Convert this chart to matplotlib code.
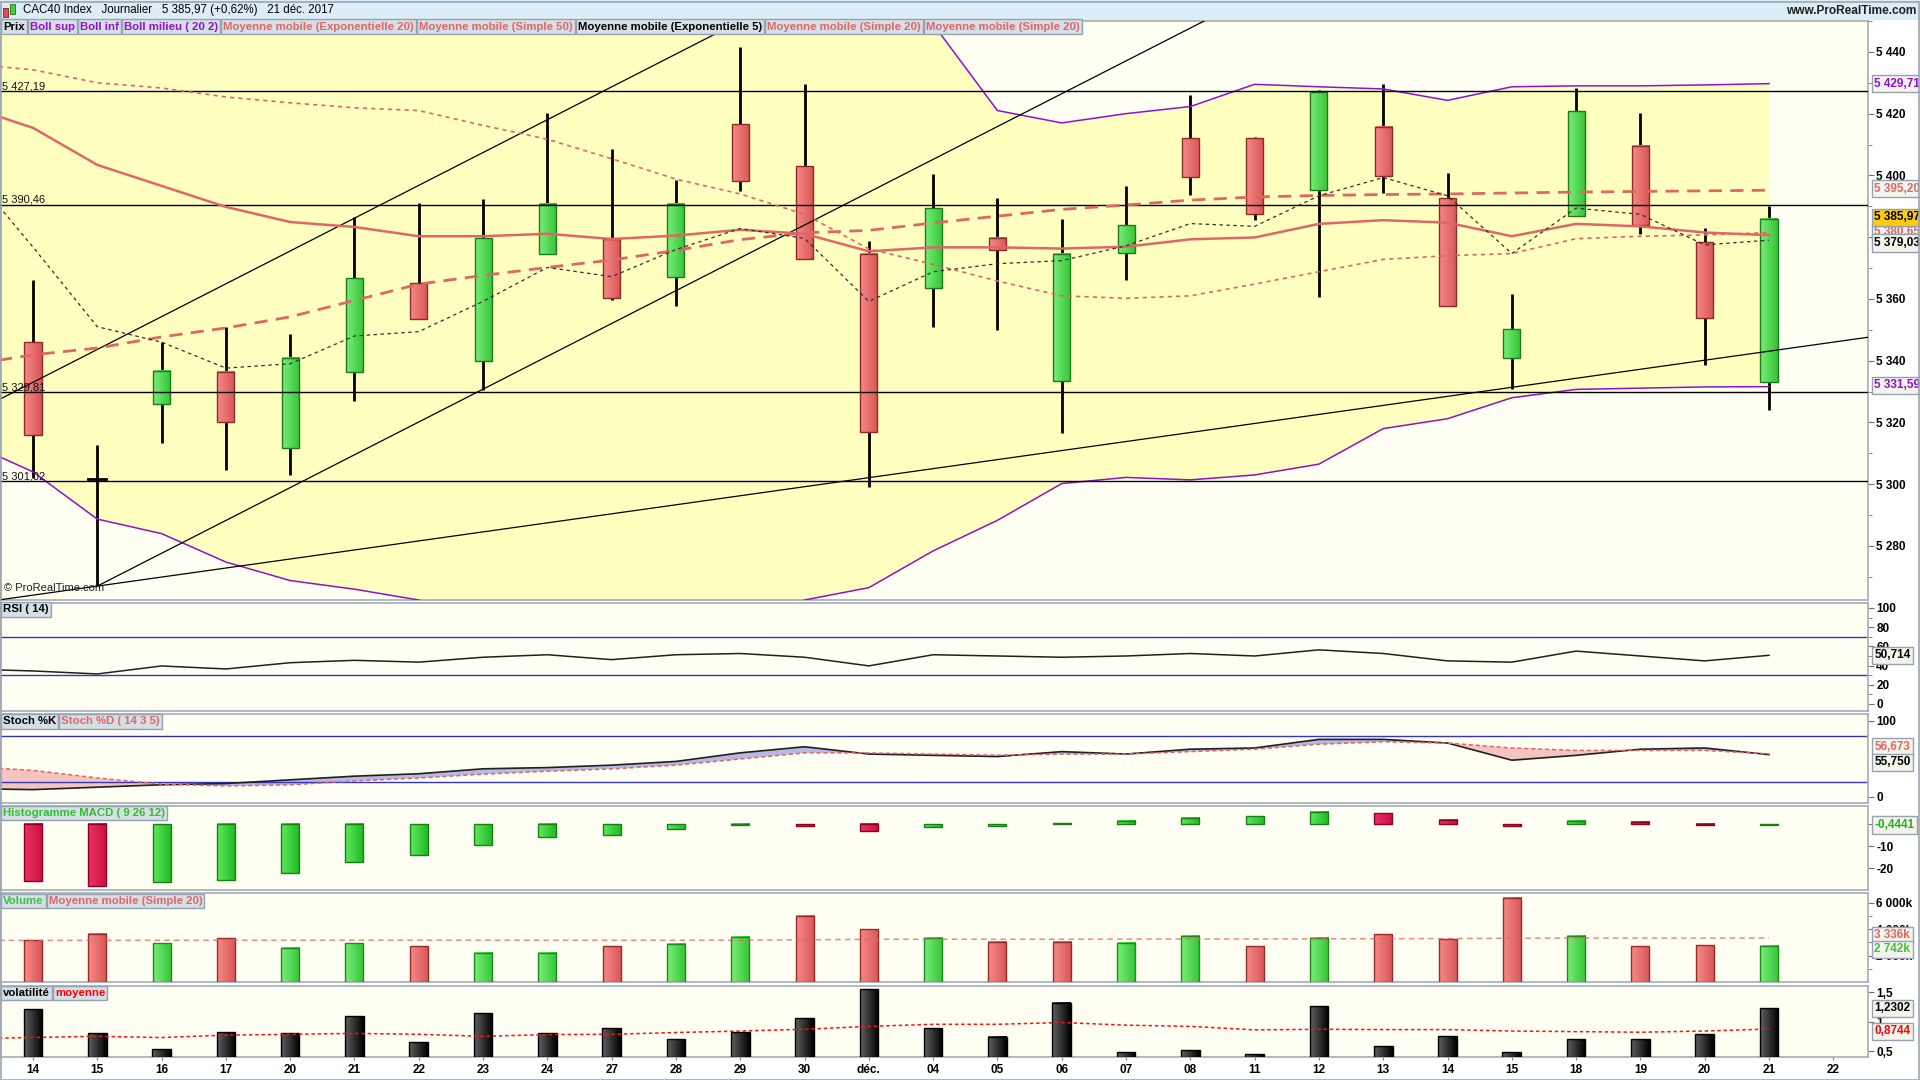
import matplotlib
matplotlib.use('Agg')
import matplotlib.pyplot as plt
from matplotlib.patches import Rectangle
from matplotlib.colors import LinearSegmentedColormap
from matplotlib.ticker import FuncFormatter, MultipleLocator, FixedLocator
import numpy as np

plt.rcParams['font.family'] = ['Liberation Sans', 'DejaVu Sans']
plt.rcParams['lines.scale_dashes'] = False

# ---------------- data ----------------
day_labels = ['14', '15', '16', '17', '20', '21', '22', '23', '24', '27', '28', '29', '30', 'déc.',
              '04', '05', '06', '07', '08', '11', '12', '13', '14', '15', '18', '19', '20', '21', '22']

prev_close = 5330.0   # 13 nov, only used for the volume colour of the first bar
opens = [5346.1, 5301.7, 5326.0, 5336.4, 5311.7, 5336.4, 5365.0, 5340.0, 5374.7, 5379.3, 5367.0, 5416.5,
         5402.9, 5374.7, 5363.6, 5379.8, 5333.5, 5375.0, 5412.0, 5412.0, 5395.4, 5415.6, 5392.6, 5341.0,
         5387.0, 5409.6, 5378.3, 5333.1]
closes = [5316.0, 5301.7, 5336.7, 5320.0, 5341.0, 5366.8, 5353.4, 5379.8, 5390.9, 5360.4, 5390.9, 5398.3,
          5373.0, 5317.0, 5389.5, 5375.9, 5374.7, 5384.0, 5399.4, 5387.4, 5427.1, 5399.7, 5357.7, 5350.2,
          5420.7, 5383.9, 5353.7, 5385.97]
highs = [5366.2, 5312.7, 5346.0, 5351.0, 5348.7, 5386.5, 5391.2, 5392.2, 5420.1, 5408.7, 5398.4, 5441.6,
         5429.5, 5378.6, 5400.5, 5392.8, 5386.0, 5396.7, 5425.9, 5412.4, 5427.5, 5429.5, 5400.9, 5361.7,
         5428.3, 5420.3, 5383.0, 5390.1]
lows = [5302.0, 5267.0, 5313.4, 5304.6, 5303.0, 5327.0, 5353.4, 5330.4, 5374.7, 5359.8, 5357.8, 5395.0,
        5373.0, 5299.0, 5350.8, 5349.8, 5316.5, 5366.1, 5393.7, 5385.4, 5360.5, 5394.2, 5357.7, 5330.7,
        5387.0, 5381.1, 5338.7, 5324.0]

# indicator lines start one day earlier (13 nov) so they reach the left edge
line_x = np.arange(-1, 28)
boll_sup = [5500, 5495, 5490, 5486, 5482, 5478, 5474, 5470, 5468, 5466, 5464, 5462, 5460, 5458, 5455, 5449,
            5421.0, 5417.0, 5420.0, 5422.3, 5429.5, 5428.7, 5428.0, 5424.3, 5428.7, 5429.0, 5429.0, 5429.3, 5429.71]
boll_inf = [5313.4, 5304.0, 5288.7, 5284.0, 5274.8, 5268.8, 5266.0, 5262.5, 5255.0, 5250.0, 5248.0, 5250.0,
            5255.0, 5262.5, 5266.5, 5278.4, 5288.3, 5300.2, 5302.2, 5301.4, 5303.0, 5306.5, 5318.0, 5321.2,
            5328.0, 5330.7, 5331.1, 5331.5, 5331.59]
sma20 = [5422.3, 5415.4, 5403.4, 5396.6, 5389.8, 5384.9, 5383.3, 5380.3, 5380.3, 5381.1, 5379.4, 5380.5,
         5382.4, 5381.1, 5375.4, 5376.7, 5376.7, 5376.3, 5376.9, 5379.3, 5379.9, 5384.3, 5385.5, 5384.7,
         5380.3, 5384.3, 5383.5, 5381.5, 5380.65]
ema20 = [5338.6, 5341.9, 5344.1, 5347.7, 5350.6, 5354.2, 5359.5, 5364.8, 5367.6, 5370.2, 5372.6, 5375.7,
         5379.2, 5381.4, 5382.2, 5384.6, 5386.8, 5389.0, 5390.4, 5392.0, 5393.0, 5393.5, 5393.8, 5394.0,
         5394.3, 5394.6, 5394.8, 5395.0, 5395.20]
sma50 = [5436.1, 5434.2, 5430.0, 5428.3, 5425.4, 5423.5, 5421.9, 5421.0, 5416.2, 5411.7, 5405.4, 5398.8,
         5394.0, 5387.4, 5376.2, 5371.2, 5365.8, 5361.0, 5360.2, 5361.0, 5364.8, 5368.8, 5372.8, 5374.0,
         5374.7, 5379.5, 5380.3, 5380.7, 5381.5]
ema5 = [5401.7, 5376.8, 5351.0, 5346.0, 5337.6, 5339.0, 5348.0, 5349.4, 5359.2, 5370.2, 5367.2, 5376.0,
        5382.8, 5379.6, 5359.2, 5368.8, 5371.4, 5372.4, 5377.2, 5384.4, 5383.5, 5393.4, 5399.3, 5393.4,
        5374.7, 5389.4, 5387.4, 5377.5, 5379.03]

levels = [5427.19, 5390.46, 5329.81, 5301.02]
level_labels = ['5 427,19', '5 390,46', '5 329,81', '5 301,02']

# trend lines: anchor day, anchor price, slope (pts/day), first day drawn
trend_anchor_x = [1, 5.4, 1]
trend_anchor_y = [5267.0, 5390.4, 5267.0]
trend_slope = [10.63, 10.63, 2.926]
trend_start = [1, -1, -1]

rsi = [36.4, 34.4, 31.3, 39.6, 36.5, 43.0, 45.5, 43.6, 48.7, 51.3, 46.2, 51.3, 52.6, 48.7, 39.7, 51.3,
       50.0, 48.7, 50.0, 52.6, 50.0, 56.4, 52.6, 44.9, 43.6, 55.1, 50.0, 44.9, 50.714]
stoch_k = [11.0, 9.7, 12.9, 16.1, 17.7, 22.6, 27.4, 30.6, 37.1, 38.7, 41.9, 46.8, 58.1, 66.1, 56.5, 54.8,
           53.2, 59.7, 56.5, 62.9, 64.5, 75.8, 75.8, 71.0, 48.4, 54.8, 62.9, 64.5, 55.75]
stoch_d = [40.0, 35.0, 25.0, 17.0, 14.5, 16.0, 21.0, 25.0, 30.0, 33.9, 37.0, 41.9, 50.0, 58.0, 58.0, 56.5,
           55.0, 56.5, 56.5, 59.7, 62.9, 69.4, 72.6, 71.0, 64.5, 61.3, 61.3, 61.3, 56.673]

macd_prev = -24.0
macd_hist = [-26.0, -28.4, -26.2, -25.6, -22.3, -17.3, -13.9, -9.5, -6.1, -5.0, -2.2, -0.5, -0.8, -3.3,
             -1.2, -0.8, 0.3, 1.5, 2.8, 3.6, 5.5, 5.0, 2.0, -0.8, 1.6, 1.0, -0.6, -0.4441]

volume_k = [3180, 3640, 2950, 3330, 2580, 2950, 2690, 2230, 2230, 2690, 2880, 3430, 5000, 3990, 3340, 3060,
            3060, 2970, 3520, 2690, 3340, 3600, 3250, 6400, 3520, 2690, 2780, 2742]
volume_sma20 = [3150, 3150, 3155, 3160, 3160, 3165, 3170, 3170, 3165, 3160, 3160, 3165, 3170, 3200, 3230,
                3240, 3240, 3240, 3250, 3260, 3260, 3270, 3280, 3290, 3320, 3330, 3330, 3330, 3336]

volat = [1.207, 0.80, 0.53, 0.822, 0.80, 1.093, 0.647, 1.14, 0.80, 0.89, 0.698, 0.822, 1.054, 1.55, 0.89,
         0.742, 1.32, 0.483, 0.517, 0.449, 1.263, 0.585, 0.754, 0.483, 0.703, 0.703, 0.788, 1.2302]
volat_avg = [0.71, 0.73, 0.75, 0.73, 0.77, 0.785, 0.80, 0.785, 0.75, 0.78, 0.785, 0.815, 0.84, 0.87, 0.92,
             0.955, 0.955, 0.985, 0.94, 0.92, 0.86, 0.87, 0.865, 0.865, 0.84, 0.83, 0.82, 0.84, 0.8744]

# ---------------- layout ----------------
W, H = 1920, 1080
RIGHT = 1868
XLIM = (-0.513, 28.54)
MAIN_YLIM = (5262.5, 5450.0)
BG = '#fffff3'
BAND = '#ffffc0'
GRID_EDGE = '#a3adb7'
RED = '#e06666'
PURPLE = '#9010d0'
BLUE = '#3434c0'

fig = plt.figure(figsize=(W / 100, H / 100), dpi=100)
fig.patch.set_facecolor('white')


def panel(top, bottom, ylim):
    ax = fig.add_axes([0, 1 - bottom / H, RIGHT / W, (bottom - top) / H])
    ax.set_facecolor(BG)
    ax.set_xlim(*XLIM)
    ax.set_ylim(*ylim)
    for s in ax.spines.values():
        s.set_color(GRID_EDGE)
        s.set_linewidth(1.2)
    ax.yaxis.tick_right()
    ax.set_xticks([])
    ax.tick_params(axis='y', which='both', direction='out', colors='#707070', labelcolor='black',
                   labelsize=8.5, pad=2)
    ax.tick_params(axis='y', which='major', length=4)
    ax.tick_params(axis='y', which='minor', length=3)
    for lab in ax.get_yticklabels():
        lab.set_fontweight('bold')
    return ax


def fr(v, dec=0, suffix=''):
    s = '{:,.{d}f}'.format(v, d=dec).replace(',', ' ').replace('.', ',')
    return s + suffix


def grad_bar(ax, xc, y0, y1, w, c1, c2, edge, z=3):
    lo, hi = min(y0, y1), max(y0, y1)
    cmap = LinearSegmentedColormap.from_list('g', [c1, c2])
    ax.imshow(np.linspace(0, 1, 32).reshape(1, -1), extent=(xc - w / 2, xc + w / 2, lo, hi),
              aspect='auto', cmap=cmap, zorder=z, interpolation='bilinear')
    ax.add_patch(Rectangle((xc - w / 2, lo), w, hi - lo, fill=False, edgecolor=edge, lw=1.0, zorder=z + 0.05))


def value_box(ax, y, txt, color, dy=0.0, fc='#f4f4ec'):
    ax.annotate(txt, xy=(1, y), xycoords=('axes fraction', 'data'), xytext=(4.6, dy),
                textcoords='offset points', ha='left', va='center', fontsize=8.5, fontweight='bold',
                color=color, annotation_clip=False, zorder=30,
                bbox=dict(boxstyle='square,pad=0.22', fc=fc, ec='#96a2ae', lw=1))


renderer = fig.canvas.get_renderer()


def label_row(items, x, y, size=8.2):
    for txt, col in items:
        t = fig.text(x / W, 1 - y / H, txt, color=col, fontsize=size, fontweight='bold', ha='left',
                     va='center', zorder=40,
                     bbox=dict(boxstyle='square,pad=0.18', fc='#d6dee6', ec='#95a3b1', lw=1))
        bb = t.get_window_extent(renderer)
        x = bb.x1 + 2 * 0.18 * size * 100 / 72 + 1


# ---------------- header ----------------
fig.add_artist(Rectangle((0, 1 - 20 / H), 1, 20 / H, transform=fig.transFigure, fc='#dcedf6',
                         ec='none', zorder=0))
fig.add_artist(Rectangle((3 / W, 1 - 17 / H), 5 / W, 9 / H, transform=fig.transFigure, fc='#e05050',
                         ec='#802020', lw=0.6))
fig.add_artist(Rectangle((10 / W, 1 - 14 / H), 5 / W, 10 / H, transform=fig.transFigure, fc='#40d040',
                         ec='#207020', lw=0.6))
fig.text(23 / W, 1 - 10.5 / H, 'CAC40 Index   Journalier   5 385,97 (+0,62%)   21 déc. 2017',
         fontsize=8.3, ha='left', va='center', color='black')
fig.text(1916 / W, 1 - 11 / H, 'www.ProRealTime.com', fontsize=8.6, fontweight='bold', ha='right',
         va='center', color='#202020')

# ---------------- main price panel ----------------
ax = panel(21, 600, MAIN_YLIM)
ax.yaxis.set_major_locator(MultipleLocator(20))
ax.yaxis.set_minor_locator(MultipleLocator(10))
ax.yaxis.set_major_formatter(FuncFormatter(lambda v, p: fr(v)))

ax.fill_between(line_x, boll_inf, boll_sup, color=BAND, lw=0, zorder=0.5)
ax.plot(line_x, boll_sup, color=PURPLE, lw=1.1, zorder=4)
ax.plot(line_x, boll_inf, color=PURPLE, lw=1.1, zorder=4)

for lv, lab in zip(levels, level_labels):
    ax.axhline(lv, color='black', lw=1.0, zorder=4)
    ax.text(0.001, lv, lab, transform=ax.get_yaxis_transform(), fontsize=8, ha='left', va='bottom',
            color='#101010', zorder=5)

for ax0, ay0, sl, st in zip(trend_anchor_x, trend_anchor_y, trend_slope, trend_start):
    xs = np.array([max(st, XLIM[0]), XLIM[1]])
    ax.plot(xs, ay0 + sl * (xs - ax0), color='black', lw=0.9, zorder=4)

for i, (o, c, hi, lo) in enumerate(zip(opens, closes, highs, lows)):
    ax.plot([i, i], [lo, hi], color='black', lw=2.0, zorder=2.5, solid_capstyle='butt')
    if abs(c - o) < 0.3:
        ax.plot([i - 0.14, i + 0.14], [o, o], color='black', lw=2.0, zorder=2.6)
    elif c > o:
        grad_bar(ax, i, o, c, 0.265, '#78ee78', '#36c436', '#1d7a1d')
    else:
        grad_bar(ax, i, o, c, 0.265, '#f68a86', '#d85656', '#8e2a2a')

ax.plot(line_x, sma50, color=RED, lw=1.2, dashes=(3, 3), zorder=5)
ax.plot(line_x, sma20, color=RED, lw=1.8, zorder=5)
ax.plot(line_x, ema20, color=RED, lw=2.0, dashes=(9.5, 6), zorder=5)
ax.plot(line_x, ema5, color='#303030', lw=0.9, dashes=(2.5, 2.5), zorder=5)
ax.set_xlim(*XLIM)
ax.set_ylim(*MAIN_YLIM)

ax.text(0.002, 0.012, '© ProRealTime.com', transform=ax.transAxes, fontsize=8, ha='left', va='bottom',
        color='#202020', zorder=6)

value_box(ax, boll_sup[-1], '5 429,71', PURPLE)
value_box(ax, ema20[-1], '5 395,20', RED, dy=1)
value_box(ax, sma20[-1], '5 380,65', RED, dy=2)
value_box(ax, ema5[-1], '5 379,03', 'black', dy=-2)
value_box(ax, closes[-1], '5 385,97', 'black', dy=1, fc='#ffcc10')
value_box(ax, boll_inf[-1], '5 331,59', PURPLE, dy=1)

label_row([('Prix', 'black'), ('Boll sup', PURPLE), ('Boll inf', PURPLE), ('Boll milieu ( 20 2)', PURPLE),
           ('Moyenne mobile (Exponentielle 20)', RED), ('Moyenne mobile (Simple 50)', RED),
           ('Moyenne mobile (Exponentielle 5)', 'black'), ('Moyenne mobile (Simple 20)', RED),
           ('Moyenne mobile (Simple 20)', RED)], 3, 26.5)

# ---------------- RSI ----------------
ax_r = panel(603, 711, (-7.3, 105.2))
ax_r.yaxis.set_major_locator(MultipleLocator(20))
ax_r.yaxis.set_minor_locator(MultipleLocator(10))
ax_r.yaxis.set_major_formatter(FuncFormatter(lambda v, p: fr(v)))
ax_r.axhline(70, color=BLUE, lw=1.0)
ax_r.axhline(30, color=BLUE, lw=1.0)
ax_r.plot(line_x, rsi, color='#202020', lw=1.1)
ax_r.set_xlim(*XLIM)
value_box(ax_r, rsi[-1], '50,714', 'black')
label_row([('RSI ( 14)', 'black')], 3, 609.5)

# ---------------- Stochastic ----------------
ax_s = panel(714, 803, (-7.9, 109.2))
ax_s.yaxis.set_major_locator(FixedLocator([0, 100]))
ax_s.yaxis.set_major_formatter(FuncFormatter(lambda v, p: fr(v)))
ax_s.axhline(80, color=BLUE, lw=1.0)
ax_s.axhline(20, color=BLUE, lw=1.0)
k = np.array(stoch_k)
d = np.array(stoch_d)
ax_s.fill_between(line_x, k, d, where=d >= k, interpolate=True, color='#f3c4c0', lw=0)
ax_s.fill_between(line_x, k, d, where=k > d, interpolate=True, color='#b8b8e4', lw=0)
ax_s.plot(line_x, k, color='#202020', lw=1.2)
ax_s.plot(line_x, d, color=RED, lw=1.1, dashes=(3, 2))
ax_s.set_xlim(*XLIM)
value_box(ax_s, stoch_d[-1], '56,673', RED, dy=5.2)
value_box(ax_s, stoch_k[-1], '55,750', 'black', dy=-5.5)
label_row([('Stoch %K', 'black'), ('Stoch %D ( 14 3 5)', RED)], 3, 721.5)

# ---------------- MACD histogram ----------------
ax_m = panel(806, 890, (-30.0, 8.2))
ax_m.yaxis.set_major_locator(FixedLocator([-20, -10, 0]))
ax_m.yaxis.set_major_formatter(FuncFormatter(lambda v, p: fr(v)))
prev = macd_prev
for i, v in enumerate(macd_hist):
    if v > prev:
        grad_bar(ax_m, i, 0, v, 0.28, '#5ee85e', '#22b822', '#158015')
    else:
        grad_bar(ax_m, i, 0, v, 0.28, '#f0306a', '#c8103e', '#900020')
    prev = v
ax_m.set_xlim(*XLIM)
ax_m.set_ylim(-30.0, 8.2)
value_box(ax_m, macd_hist[-1], '-0,4441', '#22b022')
label_row([('Histogramme MACD ( 9 26 12)', '#2ec02e')], 3, 813)

# ---------------- Volume ----------------
ax_v = panel(893, 982, (0, 6742))
ax_v.yaxis.set_major_locator(FixedLocator([2000, 4000, 6000]))
ax_v.yaxis.set_minor_locator(FixedLocator([1000, 3000, 5000]))
ax_v.yaxis.set_major_formatter(FuncFormatter(lambda v, p: fr(v, 0, 'k')))
last = prev_close
for i, v in enumerate(volume_k):
    # volume colour follows close versus the previous close
    if closes[i] > last:
        grad_bar(ax_v, i, 0, v, 0.28, '#78ee78', '#36c436', '#1d8a1d')
    else:
        grad_bar(ax_v, i, 0, v, 0.28, '#f68a86', '#d85656', '#9a2a2a')
    last = closes[i]
ax_v.plot(line_x, volume_sma20, color=RED, lw=1.1, dashes=(4, 3), alpha=0.75, zorder=5)
ax_v.set_xlim(*XLIM)
ax_v.set_ylim(0, 6742)
value_box(ax_v, volume_sma20[-1], '3 336k', RED, dy=2)
value_box(ax_v, volume_k[-1], '2 742k', '#40c040', dy=-2.5)
label_row([('Volume', '#40c040'), ('Moyenne mobile (Simple 20)', RED)], 3, 901)

# ---------------- Volatility ----------------
ax_w = panel(986, 1057, (0.398, 1.607))
ax_w.yaxis.set_major_locator(FixedLocator([0.5, 1.0, 1.5]))
ax_w.yaxis.set_major_formatter(FuncFormatter(lambda v, p: fr(v, 1).replace(',0', '')))
for i, v in enumerate(volat):
    grad_bar(ax_w, i, 0.398, v, 0.29, '#606060', '#000000', '#000000')
ax_w.plot(line_x, volat_avg, color='#ff1010', lw=1.1, dashes=(2.5, 2), zorder=5)
ax_w.set_xlim(*XLIM)
ax_w.set_ylim(0.398, 1.607)
value_box(ax_w, volat[-1], '1,2302', 'black')
value_box(ax_w, volat_avg[-1], '0,8744', '#ff0000', dy=-1.5)
label_row([('volatilité', 'black'), ('moyenne', '#ff0000')], 3, 993)

ax_w.set_xticks(range(len(day_labels)))
ax_w.set_xticklabels(day_labels, fontsize=8.5, fontweight='bold',
                     family=['Liberation Sans Narrow', 'Liberation Sans'])
ax_w.tick_params(axis='x', direction='out', length=2.5, pad=2.5, colors='#808080', labelcolor='black')

# outer frame
fig.add_artist(Rectangle((0.5 / W, 0.5 / H), (W - 2) / W, (H - 2) / H, transform=fig.transFigure,
                         fill=False, ec='#9aa6b2', lw=1.2, zorder=50))

fig.savefig('out.png', dpi=100)
